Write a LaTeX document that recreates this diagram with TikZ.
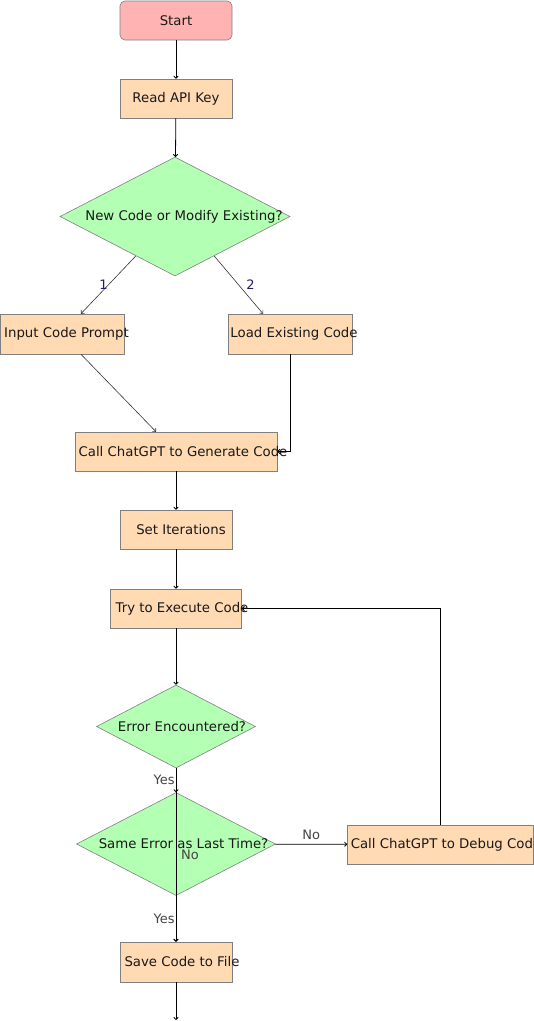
\documentclass[tikz,border=0pt]{standalone}
\usepackage{fontspec}
\setmainfont{DejaVu Sans}
\usetikzlibrary{shapes.geometric,arrows.meta,calc}
\definecolor{peach}{RGB}{255,218,179}
\definecolor{mint}{RGB}{179,255,179}
\definecolor{rose}{RGB}{255,179,179}
\definecolor{edgegray}{RGB}{128,128,128}
\definecolor{txt}{RGB}{25,25,25}
\definecolor{lblgray}{RGB}{68,68,68}
\definecolor{navyblue}{RGB}{30,30,100}
\newcommand{\offtext}[2]{\makebox[0pt]{\hspace{#1}#2}}
\begin{document}
\begin{tikzpicture}[x=1pt,y=-1pt,
  font=\fontsize{13.3}{15}\selectfont,
  box/.style={rectangle, draw=edgegray, fill=peach, inner sep=0pt, text=txt, line width=0.6pt},
  startbox/.style={box, fill=rose, rounded corners=5pt},
  dec/.style={diamond, draw=edgegray, fill=mint, inner sep=0pt, text=txt, line width=0.6pt},
  flow/.style={draw=black, line width=0.8pt, -{To[length=3pt,width=5pt]}},
  thinflow/.style={draw=black!80, line width=0.6pt, -{To[length=3pt,width=5pt]}},
  lbl/.style={text=lblgray, inner sep=0pt, font=\fontsize{13}{15}\selectfont},
  num/.style={text=navyblue, inner sep=0pt, font=\fontsize{13}{15}\selectfont}]
\useasboundingbox (0,0) rectangle (534,1021);
\clip (0,0) rectangle (534,1021);

\node[startbox, minimum width=112pt, minimum height=39pt] (start) at (176,20.5) {Start};
\node[box, minimum width=112pt, minimum height=39pt] (read) at (176,98.5) {Read API Key};
\node[dec, minimum width=230pt, minimum height=119pt] (d1) at (175,216.5) {\offtext{18pt}{New Code or Modify Existing?}};
\node[box, minimum width=124pt, minimum height=40pt] (inp) at (62,334) {\offtext{9pt}{Input Code Prompt}};
\node[box, minimum width=124pt, minimum height=40pt] (load) at (290,334) {\offtext{8pt}{Load Existing Code}};
\node[box, minimum width=202pt, minimum height=39pt] (gen) at (176,451.5) {\offtext{14pt}{Call ChatGPT to Generate Code}};
\node[box, minimum width=112pt, minimum height=39pt] (iter) at (176,529.5) {\offtext{10pt}{Set Iterations}};
\node[box, minimum width=131pt, minimum height=39pt] (try) at (176,608.5) {\offtext{12pt}{Try to Execute Code}};
\node[dec, minimum width=159pt, minimum height=83pt] (err) at (176,726.5) {\offtext{12pt}{Error Encountered?}};
\node[dec, minimum width=199pt, minimum height=103pt] (same) at (176,844) {\offtext{15pt}{Same Error as Last Time?}};
\node[box, minimum width=186pt, minimum height=39pt] (debug) at (440.5,844.5) {\offtext{11pt}{Call ChatGPT to Debug Code}};
\node[box, minimum width=112pt, minimum height=40pt] (save) at (176,962) {\offtext{12pt}{Save Code to File}};
\coordinate (end) at (176,1020);

\draw[flow] (start) -- (read);
\draw[flow] (read) -- (d1);
\draw[thinflow] ($(d1.west)!0.66!(d1.south)$) -- node[num, midway, xshift=-5pt]{1} ([xshift=19pt]inp.north);
\draw[thinflow] ($(d1.east)!0.66!(d1.south)$) -- node[num, midway, xshift=12pt]{2} ([xshift=-27pt]load.north);
\draw[thinflow] ([xshift=19pt]inp.south) -- ([xshift=-20pt]gen.north);
\draw[flow] (load.south) |- (gen.east);
\draw[flow] (gen) -- (iter);
\draw[flow] (iter) -- (try);
\draw[flow] (try) -- (err);
\draw[flow] (err) -- node[lbl, midway, anchor=east, xshift=-1pt]{Yes} (same);
\draw[flow] (err) -- node[lbl, midway, xshift=14pt]{No} (save);
\draw[flow] (same) -- node[lbl, midway, anchor=east, xshift=-1pt]{Yes} (save);
\draw[flow] (same) -- node[lbl, midway, above=4pt]{No} (debug);
\draw[flow] (debug.north) |- (try.east);
\draw[flow] (save) -- (end);
\end{tikzpicture}
\end{document}
